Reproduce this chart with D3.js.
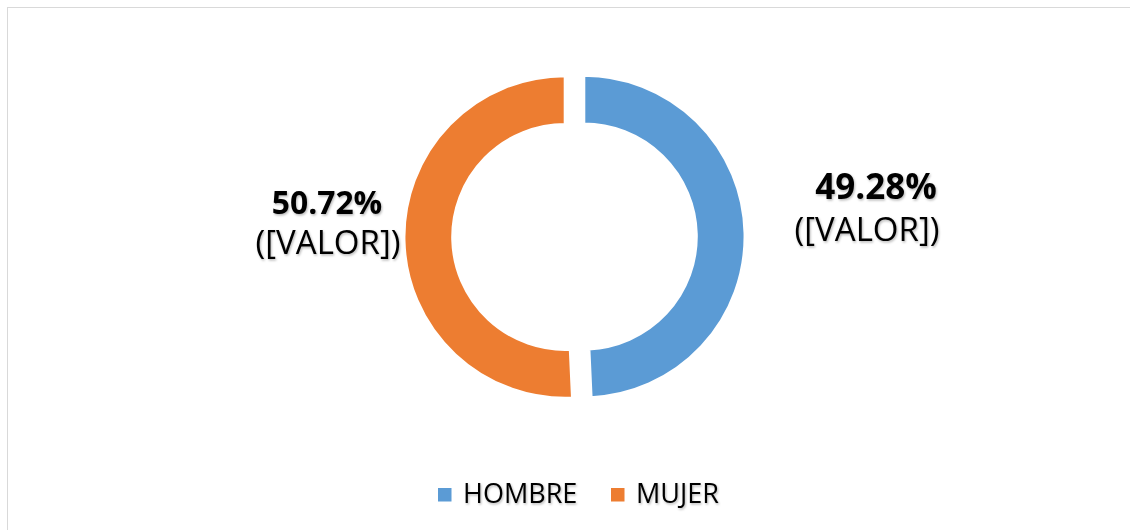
<!DOCTYPE html>
<html>
<head>
<meta charset="utf-8">
<script src="https://cdn.jsdelivr.net/npm/d3@7"></script>
<style>
  html, body { margin: 0; padding: 0; background: #fff; }
  svg { display: block; font-family: "Open Sans", "Noto Sans", sans-serif; }
</style>
</head>
<body>
<svg id="chart" width="1130" height="530"></svg>
<script>
// data
var categories = ["HOMBRE", "MUJER"];
var percents = [49.28, 50.72];
var valueLabels = ["([VALOR])", "([VALOR])"];
var colours = ["#5B9BD5", "#ED7D31"];

var W = 1130, H = 530;
var cx = 574.5, cy = 236.75;
var outerR = 161.25, innerR = 112.5;
var explode = 9.3;

var svg = d3.select("#chart");

// soft glow behind text, like the office chart
var defs = svg.append("defs");
var f = defs.append("filter").attr("id", "glow")
    .attr("x", "-20%").attr("y", "-30%").attr("width", "140%").attr("height", "160%");
f.append("feDropShadow")
    .attr("dx", 1).attr("dy", 1.5).attr("stdDeviation", 1.3)
    .attr("flood-color", "#000").attr("flood-opacity", 0.28);

// chart area border (runs off the right and bottom edge)
svg.append("rect")
    .attr("x", 7.5).attr("y", 7.5)
    .attr("width", W + 20).attr("height", H + 20)
    .attr("fill", "none").attr("stroke", "#d9d9d9").attr("stroke-width", 1);

var pie = d3.pie().sort(null).value(function(d) { return d; });
var arcs = pie(percents);
var arc = d3.arc().innerRadius(innerR).outerRadius(outerR);

var g = svg.append("g").attr("transform", "translate(" + cx + "," + cy + ")");

g.selectAll("path.slice")
    .data(arcs)
  .enter().append("path").attr("class", "slice")
    .attr("d", arc)
    .attr("fill", function(d, i) { return colours[i]; })
    .attr("stroke", "#fff").attr("stroke-width", 3)
    .attr("transform", function(d) {
        var a = (d.startAngle + d.endAngle) / 2;
        return "translate(" + (explode * Math.sin(a)) + "," + (-explode * Math.cos(a)) + ")";
    });

// label placement (offsets from the doughnut centre)
var labelLayout = [
    { x1: 301.5, y1: -38, x2: 292.5, y2: 4, size1: 35 },
    { x1: -247.5, y1: -23, x2: -246.5, y2: 17, size1: 31.8 }
];

var labels = g.selectAll("g.lbl")
    .data(arcs)
  .enter().append("g").attr("class", "lbl")
    .attr("filter", "url(#glow)");

labels.append("text")
    .attr("x", function(d, i) { return labelLayout[i].x1; })
    .attr("y", function(d, i) { return labelLayout[i].y1; })
    .attr("text-anchor", "middle")
    .attr("font-weight", "bold")
    .attr("font-size", function(d, i) { return labelLayout[i].size1; })
    .attr("fill", "#000")
    .text(function(d) { return d3.format(".2f")(d.data) + "%"; });

labels.append("text")
    .attr("x", function(d, i) { return labelLayout[i].x2; })
    .attr("y", function(d, i) { return labelLayout[i].y2; })
    .attr("text-anchor", "middle")
    .attr("font-size", 33)
    .attr("fill", "#000")
    .text(function(d, i) { return valueLabels[i]; });

// legend
var legendX = d3.scaleOrdinal().domain(categories).range([438, 611]);
var legend = svg.append("g").attr("class", "legend");
var items = legend.selectAll("g.item")
    .data(categories)
  .enter().append("g").attr("class", "item")
    .attr("transform", function(d) { return "translate(" + legendX(d) + ",488)"; });

items.append("rect")
    .attr("width", 13.5).attr("height", 13.5)
    .attr("fill", function(d, i) { return colours[i]; });

items.append("text")
    .attr("x", 25).attr("y", 14.5)
    .attr("font-size", 27)
    .attr("fill", "#000")
    .attr("filter", "url(#glow)")
    .text(function(d) { return d; });
</script>
</body>
</html>
